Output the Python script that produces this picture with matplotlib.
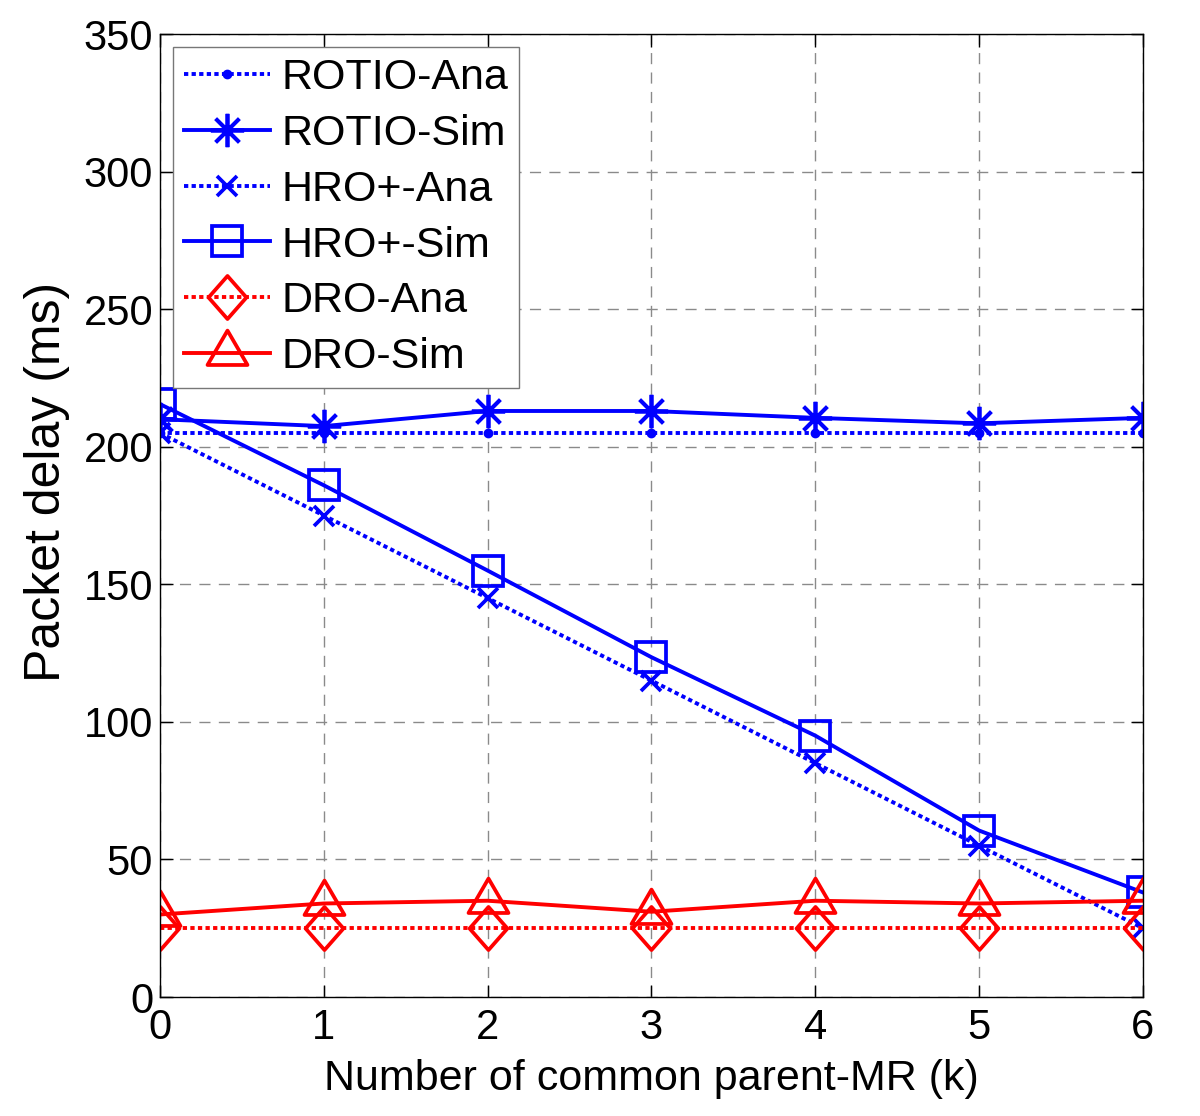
import numpy as np
import matplotlib
matplotlib.use("Agg")
import matplotlib.pyplot as plt
from matplotlib.path import Path

plt.rcParams["font.family"] = ["Liberation Sans", "DejaVu Sans"]

# ---------- data ----------
k = [0, 1, 2, 3, 4, 5, 6]
rotio_ana = [205, 205, 205, 205, 205, 205, 205]
rotio_sim = [210, 207.5, 213, 213, 210.5, 208.5, 210.5]
hro_ana = [205, 175, 145, 115, 85, 55, 25]
hro_sim = [215.5, 186, 155, 123.5, 95, 60.5, 38]
dro_ana = [25, 25, 25, 25, 25, 25, 25]
dro_sim = [30, 34, 35, 31, 35, 34, 35]

labels = ["ROTIO-Ana", "ROTIO-Sim", "HRO+-Ana", "HRO+-Sim", "DRO-Ana", "DRO-Sim"]
xticks = [0, 1, 2, 3, 4, 5, 6]
yticks = [0, 50, 100, 150, 200, 250, 300, 350]

blue = "#0000ff"
red = "#ff0000"
lw = 2.8
mew = 2.7
dotted = (0, (1.1, 0.85))

# MATLAB-like markers: slightly tall diamond, centroid-anchored triangle
diamond = Path([(0, 0.5), (0.44, 0), (0, -0.5), (-0.44, 0), (0, 0.5)],
               [Path.MOVETO, Path.LINETO, Path.LINETO, Path.LINETO, Path.CLOSEPOLY])
tri = Path([(0, 0.573), (0.5, -0.287), (-0.5, -0.287), (0, 0.573)],
           [Path.MOVETO, Path.LINETO, Path.LINETO, Path.CLOSEPOLY])

fig = plt.figure(figsize=(12, 11.16), dpi=100)
ax = fig.add_axes([0.1333, 0.1066, 0.8192, 0.8629])

ax.plot(k, rotio_ana, linestyle=dotted, color=blue, lw=lw, marker="o", ms=6, label=labels[0])
ax.plot(k, rotio_sim, "-", color=blue, lw=lw, marker=(8, 2, 0), ms=24, mew=mew, label=labels[1])
ax.plot(k, hro_ana, linestyle=dotted, color=blue, lw=lw, marker="x", ms=14, mew=mew, label=labels[2])
ax.plot(k, hro_sim, "-", color=blue, lw=lw, marker="s", ms=21, mfc="none", mew=mew, label=labels[3])
ax.plot(k, dro_ana, linestyle=dotted, color=red, lw=lw, marker=diamond, ms=31, mfc="none", mew=mew, label=labels[4])
ax.plot(k, dro_sim, "-", color=red, lw=lw, marker=tri, ms=33, mfc="none", mew=mew, label=labels[5])

ax.set_xlim(0, 6)
ax.set_ylim(0, 350)
ax.set_xticks(xticks)
ax.set_yticks(yticks)
ax.tick_params(direction="in", labelsize=30, length=9, width=1, top=True, right=True)
ax.tick_params(axis="y", pad=5)
ax.tick_params(axis="x", pad=8)
ax.grid(True, linestyle=(0, (8, 6)), color="#8a8a8a", lw=1)
for s in ax.spines.values():
    s.set_linewidth(1)

ax.set_xlabel("Number of common parent-MR (k)", fontsize=31, labelpad=8)
ax.set_ylabel("Packet delay (ms)", fontsize=36)
ax.yaxis.set_label_coords(-0.092, 0.535)

leg = ax.legend(loc="upper left", fontsize=31, frameon=True, fancybox=False,
                edgecolor="#777777", framealpha=1, borderaxespad=0.3,
                handlelength=2.0, labelspacing=0.37, handletextpad=0.28,
                borderpad=0.25)
leg.get_frame().set_linewidth(1)

fig.savefig("out.png", dpi=100)
